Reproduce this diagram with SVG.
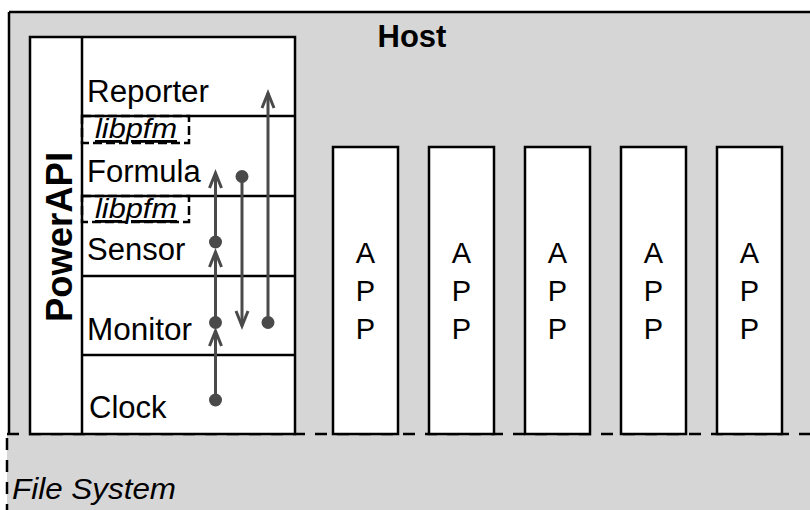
<svg xmlns="http://www.w3.org/2000/svg" width="810" height="510" viewBox="0 0 810 510">
  <style>
    .lbl { font-family: "Liberation Sans", Arial, sans-serif; font-size: 31px; fill: #000; }
    .app { font-family: "Liberation Sans", Arial, sans-serif; font-size: 29px; fill: #000; text-anchor: middle; }
    .lib { font-family: "Liberation Sans", Arial, sans-serif; font-size: 28px; font-style: italic; text-decoration: underline; fill: #000; }
    .box { fill: #fff; stroke: #000; stroke-width: 2.5; }
    .rowline { stroke: #000; stroke-width: 2.5; }
    .dashbox { fill: none; stroke: #000; stroke-width: 2.5; stroke-dasharray: 9,4; }
    .conn { stroke: #4a4a4a; stroke-width: 3; fill: none; marker-end: url(#chev); }
    .dot { fill: #4a4a4a; }
    .border { stroke: #000; stroke-width: 2.5; fill: none; }
    .dashed { stroke: #000; stroke-width: 2.5; fill: none; stroke-dasharray: 12,10; }
  </style>
  <defs>
    <marker id="chev" markerUnits="userSpaceOnUse" viewBox="-20 -10 24 20" refX="0" refY="0" markerWidth="24" markerHeight="20" orient="auto" overflow="visible">
      <path d="M-15,-6 L0,0 L-15,6" fill="none" stroke="#4a4a4a" stroke-width="3" stroke-linejoin="miter"/>
    </marker>
  </defs>

  <rect x="0" y="0" width="810" height="510" fill="#fff"/>

  <g id="filesystem">
    <rect x="7" y="434" width="810" height="80" fill="#d6d6d6"/>
    <line class="dashed" x1="7" y1="438" x2="7" y2="510"/>
    <text x="12" y="499" font-family="Liberation Sans, Arial, sans-serif" font-size="30" font-style="italic" textLength="164" lengthAdjust="spacingAndGlyphs">File System</text>
  </g>

  <g id="host">
    <rect x="9" y="12" width="810" height="422" fill="#d6d6d6"/>
    <line class="border" x1="9" y1="12" x2="810" y2="12"/>
    <line class="border" x1="9" y1="12" x2="9" y2="434"/>
    <line class="dashed" x1="7" y1="434" x2="810" y2="434"/>
    <text x="412" y="47" text-anchor="middle" font-family="Liberation Sans, Arial, sans-serif" font-size="31" font-weight="bold">Host</text>
  </g>

  <g id="powerapi">
    <rect class="box" x="30" y="37" width="265" height="397"/>
    <line class="rowline" x1="82" y1="37" x2="82" y2="434"/>
    <text transform="translate(72,237) rotate(-90)" text-anchor="middle" font-family="Liberation Sans, Arial, sans-serif" font-size="37" font-weight="bold" textLength="170" lengthAdjust="spacingAndGlyphs">PowerAPI</text>
  </g>

  <g id="reporter">
    <text class="lbl" x="87" y="102" textLength="122" lengthAdjust="spacingAndGlyphs">Reporter</text>
    <line class="rowline" x1="82" y1="116" x2="295" y2="116"/>
  </g>
  <g id="libpfm1">
    <rect class="dashbox" x="82" y="116" width="107" height="27"/>
    <text class="lib" x="95" y="138" textLength="82" lengthAdjust="spacingAndGlyphs">libpfm</text>
  </g>
  <g id="formula">
    <text class="lbl" x="87" y="182">Formula</text>
    <line class="rowline" x1="82" y1="196" x2="295" y2="196"/>
  </g>
  <g id="libpfm2">
    <rect class="dashbox" x="82" y="196" width="107" height="26"/>
    <text class="lib" x="95" y="218" textLength="82" lengthAdjust="spacingAndGlyphs">libpfm</text>
  </g>
  <g id="sensor">
    <text class="lbl" x="87" y="260">Sensor</text>
    <line class="rowline" x1="82" y1="276" x2="295" y2="276"/>
  </g>
  <g id="monitor">
    <text class="lbl" x="87" y="340" textLength="105" lengthAdjust="spacingAndGlyphs">Monitor</text>
    <line class="rowline" x1="82" y1="355" x2="295" y2="355"/>
  </g>
  <g id="clock">
    <text class="lbl" x="89" y="418">Clock</text>
  </g>

  <g id="app1">
    <rect class="box" x="333" y="147" width="65" height="287"/>
    <text class="app" x="365.5" y="263">A</text>
    <text class="app" x="365.5" y="301">P</text>
    <text class="app" x="365.5" y="339">P</text>
  </g>
  <g id="app2">
    <rect class="box" x="429" y="147" width="65" height="287"/>
    <text class="app" x="461.5" y="263">A</text>
    <text class="app" x="461.5" y="301">P</text>
    <text class="app" x="461.5" y="339">P</text>
  </g>
  <g id="app3">
    <rect class="box" x="525" y="147" width="65" height="287"/>
    <text class="app" x="557.5" y="263">A</text>
    <text class="app" x="557.5" y="301">P</text>
    <text class="app" x="557.5" y="339">P</text>
  </g>
  <g id="app4">
    <rect class="box" x="621" y="147" width="65" height="287"/>
    <text class="app" x="653.5" y="263">A</text>
    <text class="app" x="653.5" y="301">P</text>
    <text class="app" x="653.5" y="339">P</text>
  </g>
  <g id="app5">
    <rect class="box" x="717" y="147" width="65" height="287"/>
    <text class="app" x="749.5" y="263">A</text>
    <text class="app" x="749.5" y="301">P</text>
    <text class="app" x="749.5" y="339">P</text>
  </g>

  <g id="connectors">
    <line class="conn" x1="215.5" y1="400" x2="215.5" y2="331"/>
    <circle class="dot" cx="215.5" cy="400" r="6.5"/>
    <line class="conn" x1="215.5" y1="322.5" x2="215.5" y2="252"/>
    <circle class="dot" cx="215.5" cy="322.5" r="6.5"/>
    <line class="conn" x1="215.5" y1="242" x2="215.5" y2="173"/>
    <circle class="dot" cx="215.5" cy="242" r="6.5"/>
    <line class="conn" x1="242" y1="176.5" x2="242" y2="326"/>
    <circle class="dot" cx="242" cy="176.5" r="6.5"/>
    <line class="conn" x1="268" y1="322.5" x2="268" y2="93"/>
    <circle class="dot" cx="268" cy="322.5" r="6.5"/>
  </g>
</svg>
